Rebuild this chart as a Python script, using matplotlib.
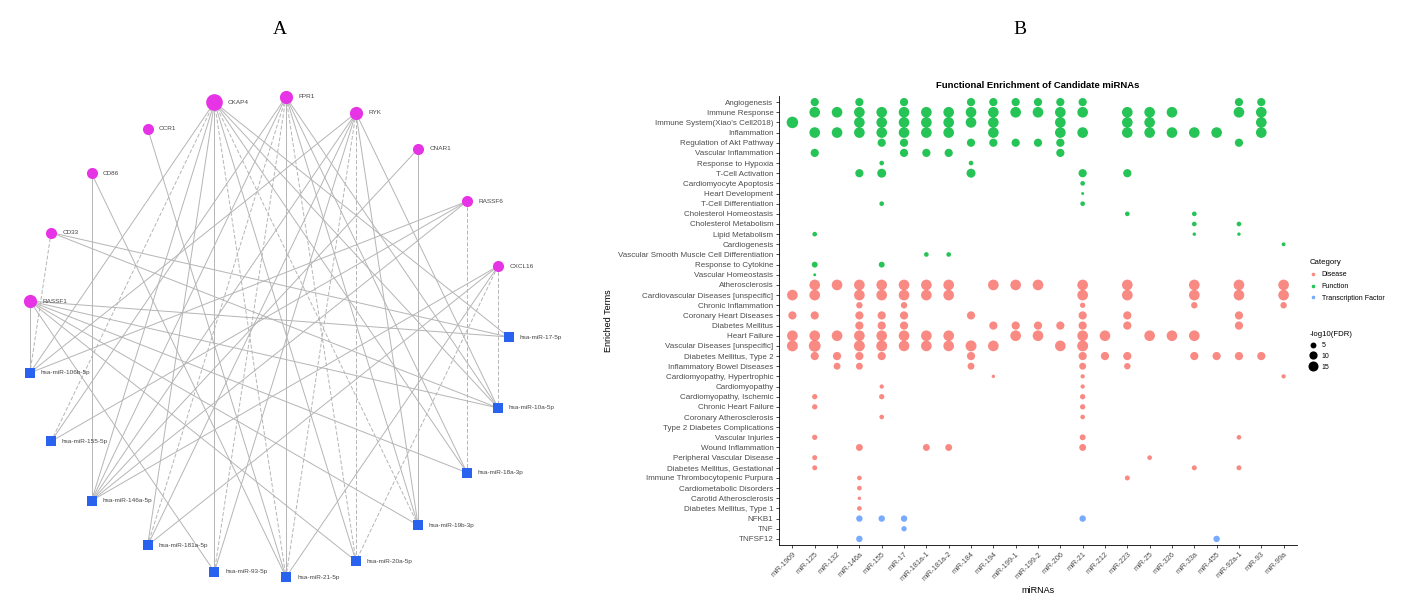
import numpy as np
import matplotlib
matplotlib.use("Agg")
import matplotlib.pyplot as plt
from matplotlib.lines import Line2D

plt.rcParams["font.family"] = ["Liberation Sans", "DejaVu Sans"]

# ---------------- panel A data: miRNA - gene network ----------------
# nodes in circular order, clockwise starting from the right side
net_nodes = ["hsa-miR-17-5p", "hsa-miR-10a-5p", "hsa-miR-18a-3p", "hsa-miR-19b-3p",
             "hsa-miR-20a-5p", "hsa-miR-21-5p", "hsa-miR-93-5p", "hsa-miR-181a-5p",
             "hsa-miR-146a-5p", "hsa-miR-155-5p", "hsa-miR-106b-5p",
             "RASSF1", "CD33", "CD86", "CCR1", "CKAP4", "FPR1", "RYK", "CNAR1",
             "RASSF6", "CXCL16"]

net_edges = [
    ("CKAP4", "hsa-miR-106b-5p", 0), ("CKAP4", "hsa-miR-155-5p", 1), ("CKAP4", "hsa-miR-146a-5p", 0),
    ("CKAP4", "hsa-miR-181a-5p", 0), ("CKAP4", "hsa-miR-93-5p", 0), ("CKAP4", "hsa-miR-21-5p", 1),
    ("CKAP4", "hsa-miR-20a-5p", 0), ("CKAP4", "hsa-miR-19b-3p", 1), ("CKAP4", "hsa-miR-18a-3p", 0),
    ("CKAP4", "hsa-miR-10a-5p", 0), ("CKAP4", "hsa-miR-17-5p", 0),
    ("FPR1", "hsa-miR-155-5p", 0), ("FPR1", "hsa-miR-146a-5p", 0), ("FPR1", "hsa-miR-181a-5p", 1),
    ("FPR1", "hsa-miR-93-5p", 1), ("FPR1", "hsa-miR-21-5p", 0), ("FPR1", "hsa-miR-20a-5p", 1),
    ("FPR1", "hsa-miR-19b-3p", 0), ("FPR1", "hsa-miR-18a-3p", 0), ("FPR1", "hsa-miR-10a-5p", 0),
    ("RYK", "hsa-miR-106b-5p", 0), ("RYK", "hsa-miR-146a-5p", 0), ("RYK", "hsa-miR-181a-5p", 0),
    ("RYK", "hsa-miR-93-5p", 0), ("RYK", "hsa-miR-21-5p", 1), ("RYK", "hsa-miR-20a-5p", 1),
    ("RYK", "hsa-miR-19b-3p", 0), ("RYK", "hsa-miR-10a-5p", 0),
    ("CCR1", "hsa-miR-21-5p", 0),
    ("CD86", "hsa-miR-146a-5p", 0), ("CD86", "hsa-miR-21-5p", 0),
    ("CD33", "hsa-miR-106b-5p", 1), ("CD33", "hsa-miR-10a-5p", 0), ("CD33", "hsa-miR-17-5p", 0),
    ("RASSF1", "hsa-miR-106b-5p", 0), ("RASSF1", "hsa-miR-17-5p", 0), ("RASSF1", "hsa-miR-10a-5p", 0),
    ("RASSF1", "hsa-miR-18a-3p", 0), ("RASSF1", "hsa-miR-19b-3p", 0), ("RASSF1", "hsa-miR-20a-5p", 0),
    ("RASSF1", "hsa-miR-93-5p", 0),
    ("CNAR1", "hsa-miR-146a-5p", 0), ("CNAR1", "hsa-miR-19b-3p", 0),
    ("RASSF6", "hsa-miR-106b-5p", 0), ("RASSF6", "hsa-miR-146a-5p", 0), ("RASSF6", "hsa-miR-155-5p", 0),
    ("RASSF6", "hsa-miR-18a-3p", 1),
    ("CXCL16", "hsa-miR-146a-5p", 0), ("CXCL16", "hsa-miR-181a-5p", 0), ("CXCL16", "hsa-miR-21-5p", 0),
    ("CXCL16", "hsa-miR-20a-5p", 1), ("CXCL16", "hsa-miR-10a-5p", 1),
]

# ---------------- panel B data: enrichment dot plot ----------------
mirnas = ["miR-1909", "miR-125", "miR-132", "miR-146a", "miR-155", "miR-17", "miR-181a-1",
          "miR-181a-2", "miR-184", "miR-194", "miR-199-1", "miR-199-2", "miR-206", "miR-21",
          "miR-212", "miR-223", "miR-25", "miR-326", "miR-33a", "miR-455", "miR-92a-1",
          "miR-93", "miR-99a"]

terms = ["Angiogenesis", "Immune Response", "Immune System(Xiao's Cell2018)", "Inflammation",
         "Regulation of Akt Pathway", "Vascular Inflammation", "Response to Hypoxia",
         "T-Cell Activation", "Cardiomyocyte Apoptosis", "Heart Development",
         "T-Cell Differentiation", "Cholesterol Homeostasis", "Cholesterol Metabolism",
         "Lipid Metabolism", "Cardiogenesis", "Vascular Smooth Muscle Cell Differentiation",
         "Response to Cytokine", "Vascular Homeostasis", "Atherosclerosis",
         "Cardiovascular Diseases [unspecific]", "Chronic Inflammation", "Coronary Heart Diseases",
         "Diabetes Mellitus", "Heart Failure", "Vascular Diseases [unspecific]",
         "Diabetes Mellitus, Type 2", "Inflammatory Bowel Diseases", "Cardiomyopathy, Hypertrophic",
         "Cardiomyopathy", "Cardiomyopathy, Ischemic", "Chronic Heart Failure",
         "Coronary Atherosclerosis", "Type 2 Diabetes Complications", "Vascular Injuries",
         "Wound Inflammation", "Peripheral Vascular Disease", "Diabetes Mellitus, Gestational",
         "Immune Thrombocytopenic Purpura", "Cardiometabolic Disorders", "Carotid Atherosclerosis",
         "Diabetes Mellitus, Type 1", "NFKB1", "TNF", "TNFSF12"]

# -log10(FDR) per (term, miRNA), grouped by category
function_hits = {
    "Angiogenesis": {"miR-125": 10, "miR-146a": 10, "miR-17": 10, "miR-184": 10, "miR-194": 10,
                     "miR-199-1": 10, "miR-199-2": 10, "miR-206": 10, "miR-21": 10,
                     "miR-92a-1": 10, "miR-93": 10},
    "Immune Response": {"miR-125": 17, "miR-132": 17, "miR-146a": 17, "miR-155": 17, "miR-17": 17,
                        "miR-181a-1": 17, "miR-181a-2": 17, "miR-184": 17, "miR-194": 17,
                        "miR-199-1": 17, "miR-199-2": 17, "miR-206": 17, "miR-21": 17,
                        "miR-223": 17, "miR-25": 17, "miR-326": 17, "miR-92a-1": 17, "miR-93": 17},
    "Immune System(Xiao's Cell2018)": {"miR-1909": 20, "miR-146a": 17, "miR-155": 17, "miR-17": 17,
                                       "miR-181a-1": 17, "miR-181a-2": 17, "miR-184": 17,
                                       "miR-194": 17, "miR-206": 17, "miR-223": 17, "miR-25": 17,
                                       "miR-93": 17},
    "Inflammation": {"miR-125": 17, "miR-132": 17, "miR-146a": 17, "miR-155": 17, "miR-17": 17,
                     "miR-181a-1": 17, "miR-181a-2": 17, "miR-194": 17, "miR-206": 17, "miR-21": 17,
                     "miR-223": 17, "miR-25": 17, "miR-326": 17, "miR-33a": 17, "miR-455": 17,
                     "miR-93": 17},
    "Regulation of Akt Pathway": {"miR-155": 10, "miR-17": 10, "miR-184": 10, "miR-194": 10,
                                  "miR-199-1": 10, "miR-199-2": 10, "miR-206": 10, "miR-92a-1": 10},
    "Vascular Inflammation": {"miR-125": 10, "miR-17": 10, "miR-181a-1": 10, "miR-181a-2": 10,
                              "miR-206": 10},
    "Response to Hypoxia": {"miR-155": 3, "miR-184": 3},
    "T-Cell Activation": {"miR-146a": 10, "miR-155": 12, "miR-184": 12, "miR-21": 10, "miR-223": 10},
    "Cardiomyocyte Apoptosis": {"miR-21": 3},
    "Heart Development": {"miR-21": 1},
    "T-Cell Differentiation": {"miR-155": 3, "miR-21": 3},
    "Cholesterol Homeostasis": {"miR-223": 3, "miR-33a": 3},
    "Cholesterol Metabolism": {"miR-33a": 3, "miR-92a-1": 3},
    "Lipid Metabolism": {"miR-125": 3, "miR-33a": 1.5, "miR-92a-1": 1.5},
    "Cardiogenesis": {"miR-99a": 2},
    "Vascular Smooth Muscle Cell Differentiation": {"miR-181a-1": 3, "miR-181a-2": 3},
    "Response to Cytokine": {"miR-125": 5, "miR-155": 5},
    "Vascular Homeostasis": {"miR-125": 1},
}

disease_hits = {
    "Atherosclerosis": {"miR-125": 17, "miR-132": 17, "miR-146a": 17, "miR-155": 17, "miR-17": 17,
                        "miR-181a-1": 17, "miR-181a-2": 17, "miR-194": 17, "miR-199-1": 17,
                        "miR-199-2": 17, "miR-21": 17, "miR-223": 17, "miR-33a": 17,
                        "miR-92a-1": 17, "miR-99a": 17},
    "Cardiovascular Diseases [unspecific]": {"miR-1909": 17, "miR-125": 17, "miR-146a": 17,
                                             "miR-155": 17, "miR-17": 17, "miR-181a-1": 17,
                                             "miR-181a-2": 17, "miR-21": 17, "miR-223": 17,
                                             "miR-33a": 17, "miR-92a-1": 17, "miR-99a": 17},
    "Chronic Inflammation": {"miR-146a": 6, "miR-17": 6, "miR-21": 4, "miR-33a": 6, "miR-99a": 6},
    "Coronary Heart Diseases": {"miR-1909": 10, "miR-125": 10, "miR-146a": 10, "miR-155": 10,
                                "miR-17": 10, "miR-184": 10, "miR-21": 10, "miR-223": 10,
                                "miR-92a-1": 10},
    "Diabetes Mellitus": {"miR-146a": 10, "miR-155": 10, "miR-17": 10, "miR-194": 10,
                          "miR-199-1": 10, "miR-199-2": 10, "miR-206": 10, "miR-21": 10,
                          "miR-223": 10, "miR-92a-1": 10},
    "Heart Failure": {"miR-1909": 17, "miR-125": 17, "miR-132": 17, "miR-146a": 17, "miR-155": 17,
                      "miR-17": 17, "miR-181a-1": 17, "miR-181a-2": 17, "miR-199-1": 17,
                      "miR-199-2": 17, "miR-21": 17, "miR-212": 17, "miR-25": 17, "miR-326": 17,
                      "miR-33a": 17},
    "Vascular Diseases [unspecific]": {"miR-1909": 18, "miR-125": 21, "miR-146a": 18, "miR-155": 18,
                                       "miR-17": 17, "miR-181a-1": 17, "miR-181a-2": 17,
                                       "miR-184": 18, "miR-194": 17, "miR-206": 17, "miR-21": 18},
    "Diabetes Mellitus, Type 2": {"miR-125": 10, "miR-132": 10, "miR-146a": 10, "miR-155": 10,
                                  "miR-184": 10, "miR-21": 10, "miR-212": 10, "miR-223": 10,
                                  "miR-33a": 10, "miR-455": 10, "miR-92a-1": 10, "miR-93": 10},
    "Inflammatory Bowel Diseases": {"miR-132": 7, "miR-146a": 7, "miR-184": 7, "miR-21": 7,
                                    "miR-223": 6},
    "Cardiomyopathy, Hypertrophic": {"miR-194": 1.5, "miR-21": 2.5, "miR-99a": 2.5},
    "Cardiomyopathy": {"miR-155": 2.5, "miR-21": 2.5},
    "Cardiomyopathy, Ischemic": {"miR-125": 4, "miR-155": 4, "miR-21": 4},
    "Chronic Heart Failure": {"miR-125": 4, "miR-21": 4},
    "Coronary Atherosclerosis": {"miR-155": 3, "miR-21": 3},
    "Vascular Injuries": {"miR-125": 4, "miR-21": 5, "miR-92a-1": 3},
    "Wound Inflammation": {"miR-146a": 7, "miR-181a-1": 7, "miR-181a-2": 7, "miR-21": 7},
    "Peripheral Vascular Disease": {"miR-125": 3.5, "miR-25": 3},
    "Diabetes Mellitus, Gestational": {"miR-125": 3.5, "miR-33a": 3.5, "miR-92a-1": 3.5},
    "Immune Thrombocytopenic Purpura": {"miR-146a": 3, "miR-223": 3.5},
    "Cardiometabolic Disorders": {"miR-146a": 3},
    "Carotid Atherosclerosis": {"miR-146a": 1.5},
    "Diabetes Mellitus, Type 1": {"miR-146a": 3},
}

tf_hits = {
    "NFKB1": {"miR-146a": 6, "miR-155": 6, "miR-17": 6, "miR-21": 6},
    "TNF": {"miR-17": 4},
    "TNFSF12": {"miR-146a": 6, "miR-455": 6},
}

categories = ["Disease", "Function", "Transcription Factor"]
cat_colors = ["#F8766D", "#00BA38", "#619CFF"]
size_breaks = [5, 10, 15]


def dot_area(v):
    return 3.4 * np.asarray(v, dtype=float) + 1


# ---------------- figure ----------------
fig = plt.figure(figsize=(14.06, 6.05), dpi=100)
W, H = 1406, 605

fig.text(280 / W, 1 - 30 / H, "A", family="Liberation Serif", fontsize=14, ha="center", va="center")
fig.text(1020 / W, 1 - 30 / H, "B", family="Liberation Serif", fontsize=14, ha="center", va="center")

# panel A
axA = fig.add_axes([8 / W, 1 - 597 / H, 520 / W, 520 / H])
axA.set_xlim(-1.08, 1.08)
axA.set_ylim(-1.08, 1.08)
axA.axis("off")

n = len(net_nodes)
ang = -2 * np.pi * np.arange(n) / n
pos = {name: (np.cos(a), np.sin(a)) for name, a in zip(net_nodes, ang)}

for g, m, dashed in net_edges:
    (x0, y0), (x1, y1) = pos[g], pos[m]
    axA.plot([x0, x1], [y0, y1], color="#b5b5b5", lw=0.7,
             ls=(0, (4, 2)) if dashed else "-", zorder=1)

big_nodes = {"CKAP4": 12, "FPR1": 9.5, "RYK": 9.5, "RASSF1": 9.5,
             "hsa-miR-146a-5p": 7.5, "hsa-miR-21-5p": 7.5}
for name in net_nodes:
    x, y = pos[name]
    is_mir = name.startswith("hsa-")
    ms = big_nodes.get(name, 6.5 if is_mir else 8)
    axA.plot(x, y, marker="s" if is_mir else "o", ms=ms, mew=0,
             color="#2A62F0" if is_mir else "#E633E6", zorder=3)
    axA.text(x + 0.03 + ms * 0.0022, y, name, fontsize=4.6, color="#444444",
             va="center", ha="left", zorder=4)

# panel B
ax = fig.add_axes([779 / W, 60 / H, 518 / W, 449 / H])
for cat, col, hits in zip(categories, cat_colors, [disease_hits, function_hits, tf_hits]):
    xs, ys, vs = [], [], []
    for term, row in hits.items():
        for mir, v in row.items():
            xs.append(mirnas.index(mir))
            ys.append(terms.index(term))
            vs.append(v)
    ax.scatter(xs, ys, s=dot_area(vs), color=col, alpha=0.85, linewidths=0, zorder=3)

ax.set_xlim(-0.6, len(mirnas) - 0.4)
ax.set_ylim(len(terms) - 0.4, -0.6)
ax.set_xticks(range(len(mirnas)))
ax.set_xticklabels(mirnas, rotation=45, ha="right", rotation_mode="anchor",
                   fontsize=5.3, color="#4d4d4d")
ax.set_yticks(range(len(terms)))
ax.set_yticklabels(terms, fontsize=5.8, color="#4d4d4d")
ax.tick_params(length=2.5, width=0.5, pad=1.5)
for s in ["top", "right"]:
    ax.spines[s].set_visible(False)
for s in ["left", "bottom"]:
    ax.spines[s].set_linewidth(0.6)
ax.set_xlabel("miRNAs", fontsize=6.5, labelpad=2)
ax.set_ylabel("Enriched Terms", fontsize=6.5, labelpad=4)
ax.set_title("Functional Enrichment of Candidate miRNAs", fontsize=6.8,
             fontweight="bold", pad=6)

# legends
cat_handles = [Line2D([], [], ls="", marker="o", ms=2.6, mew=0, color=c, alpha=0.85)
               for c in cat_colors]
leg1 = fig.legend(cat_handles, categories, title="Category", loc="upper left",
                  bbox_to_anchor=(1303 / W, 1 - 253 / H), frameon=False,
                  fontsize=5, title_fontsize=5.6, alignment="left",
                  handlelength=1.2, handletextpad=0.6, labelspacing=0.7)
size_handles = [Line2D([], [], ls="", marker="o", ms=np.sqrt(dot_area(v)), mew=0,
                       color="black") for v in size_breaks]
leg2 = fig.legend(size_handles, [str(v) for v in size_breaks], title="-log10(FDR)",
                  loc="upper left", bbox_to_anchor=(1303 / W, 1 - 325 / H), frameon=False,
                  fontsize=5, title_fontsize=5.6, alignment="left",
                  handlelength=1.2, handletextpad=0.6, labelspacing=0.55)

fig.savefig("out.png", dpi=100)
